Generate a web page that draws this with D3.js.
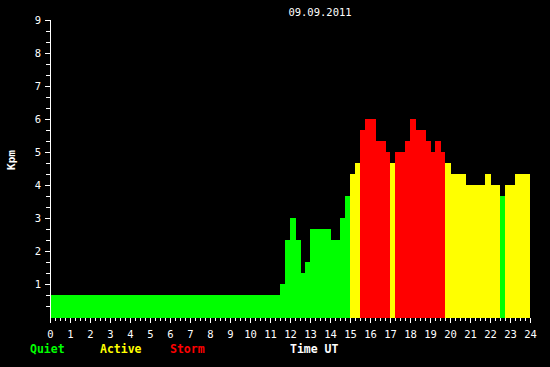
<!DOCTYPE html>
<html>
<head>
<meta charset="utf-8">
<script src="https://cdn.jsdelivr.net/npm/d3@7"></script>
<style>
  body { margin: 0; background: #000; }
  svg { display: block; }
  text { font-family: "DejaVu Sans Mono", monospace; fill: #fff; }
</style>
</head>
<body>
<div class="chart"></div>
<script>
var svgWidth = 550;
var svgHeight = 367;

// start hour of each bar (a bar runs to the next start), last value is the end
var startHours = [0, 11.5, 11.75, 12, 12.3, 12.55, 12.75, 13, 14.05, 14.5, 14.75,
  15, 15.25, 15.5, 15.75, 16.3, 16.8, 17, 17.25, 17.75, 18, 18.3, 18.8, 19.05,
  19.25, 19.55, 19.75, 20.05, 20.8, 21.75, 22.05, 22.5, 22.75, 23.25, 24];
var kpValues = [0.67, 1, 2.33, 3, 2.33, 1.33, 1.67, 2.67, 2.33, 3, 3.67,
  4.33, 4.67, 5.67, 6, 5.33, 5, 4.67, 5, 5.33, 6, 5.67, 5.33, 5,
  5.33, 5, 4.67, 4.33, 4, 4.33, 4, 3.67, 4, 4.33];
var xTickLabels = d3.range(0, 25);
var yTickLabels = d3.range(1, 10);
var levelNames = ["Quiet", "Active", "Storm"];
var levelColors = ["#00ff00", "#ffff00", "#ff0000"];

var bars = kpValues.map(function (v, i) {
  return { x0: startHours[i], x1: startHours[i + 1], kp: v };
});

function level(v) {
  if (v >= 5) return 2;
  if (v >= 4) return 1;
  return 0;
}

var xScale = d3.scaleLinear().domain([0, 24]).range([50, 530]);
var yScale = d3.scaleLinear().domain([0, 9]).range([317, 20]);

var svg = d3.select(".chart")
  .append("svg")
  .attr("width", svgWidth)
  .attr("height", svgHeight)
  .style("background", "#000");

// bars
svg.append("g")
  .selectAll("rect")
  .data(bars)
  .enter().append("rect")
  .attr("x", d => Math.round(xScale(d.x0)))
  .attr("width", d => Math.round(xScale(d.x1)) - Math.round(xScale(d.x0)))
  .attr("y", d => Math.round(yScale(d.kp)))
  .attr("height", d => 318 - Math.round(yScale(d.kp)))
  .attr("fill", d => levelColors[level(d.kp)])
  .attr("shape-rendering", "crispEdges");

// x axis: ticks only, minor every 15 min
var xAxis = svg.append("g").attr("transform", "translate(0,318)");
xAxis.selectAll("line")
  .data(d3.range(0, 24.01, 0.25))
  .enter().append("line")
  .attr("x1", d => Math.round(xScale(d)) + 0.5)
  .attr("x2", d => Math.round(xScale(d)) + 0.5)
  .attr("y1", 0)
  .attr("y2", d => d % 1 === 0 ? 5 : 3)
  .attr("stroke", "#fff");
xAxis.selectAll("text")
  .data(xTickLabels)
  .enter().append("text")
  .attr("x", d => xScale(d) + 0.5)
  .attr("y", 20)
  .attr("text-anchor", "middle")
  .attr("font-size", "10.5px")
  .text(d => d);

// y axis
var yAxis = svg.append("g");
yAxis.append("line")
  .attr("x1", 50.5).attr("x2", 50.5)
  .attr("y1", yScale(9)).attr("y2", 318)
  .attr("stroke", "#fff");
yAxis.selectAll(".tick")
  .data(d3.range(1, 28).map(d => d / 3))
  .enter().append("line")
  .attr("class", "tick")
  .attr("x1", d => Math.abs(d - Math.round(d)) < 0.01 ? 45 : 46)
  .attr("x2", 50)
  .attr("y1", d => Math.round(yScale(d)) + 0.5)
  .attr("y2", d => Math.round(yScale(d)) + 0.5)
  .attr("stroke", "#fff");
yAxis.selectAll("text")
  .data(yTickLabels)
  .enter().append("text")
  .attr("x", 41)
  .attr("y", d => yScale(d) + 4)
  .attr("text-anchor", "end")
  .attr("font-size", "10.5px")
  .text(d => d);

// title and axis labels
svg.append("text")
  .attr("x", 320)
  .attr("y", 16)
  .attr("text-anchor", "middle")
  .attr("font-size", "10.5px")
  .text("09.09.2011");

svg.append("text")
  .attr("transform", "translate(15,160) rotate(-90)")
  .attr("text-anchor", "middle")
  .attr("font-size", "11px")
  .attr("font-weight", "bold")
  .text("Kpm");

svg.append("text")
  .attr("x", 290)
  .attr("y", 353)
  .attr("font-size", "11.5px")
  .attr("font-weight", "bold")
  .text("Time UT");

// legend
var legendX = [30, 100, 170];
svg.append("g")
  .selectAll("text")
  .data(levelNames)
  .enter().append("text")
  .attr("x", (d, i) => legendX[i])
  .attr("y", 353)
  .attr("font-size", "11.5px")
  .attr("font-weight", "bold")
  .style("fill", (d, i) => levelColors[i])
  .text(d => d);
</script>
</body>
</html>
